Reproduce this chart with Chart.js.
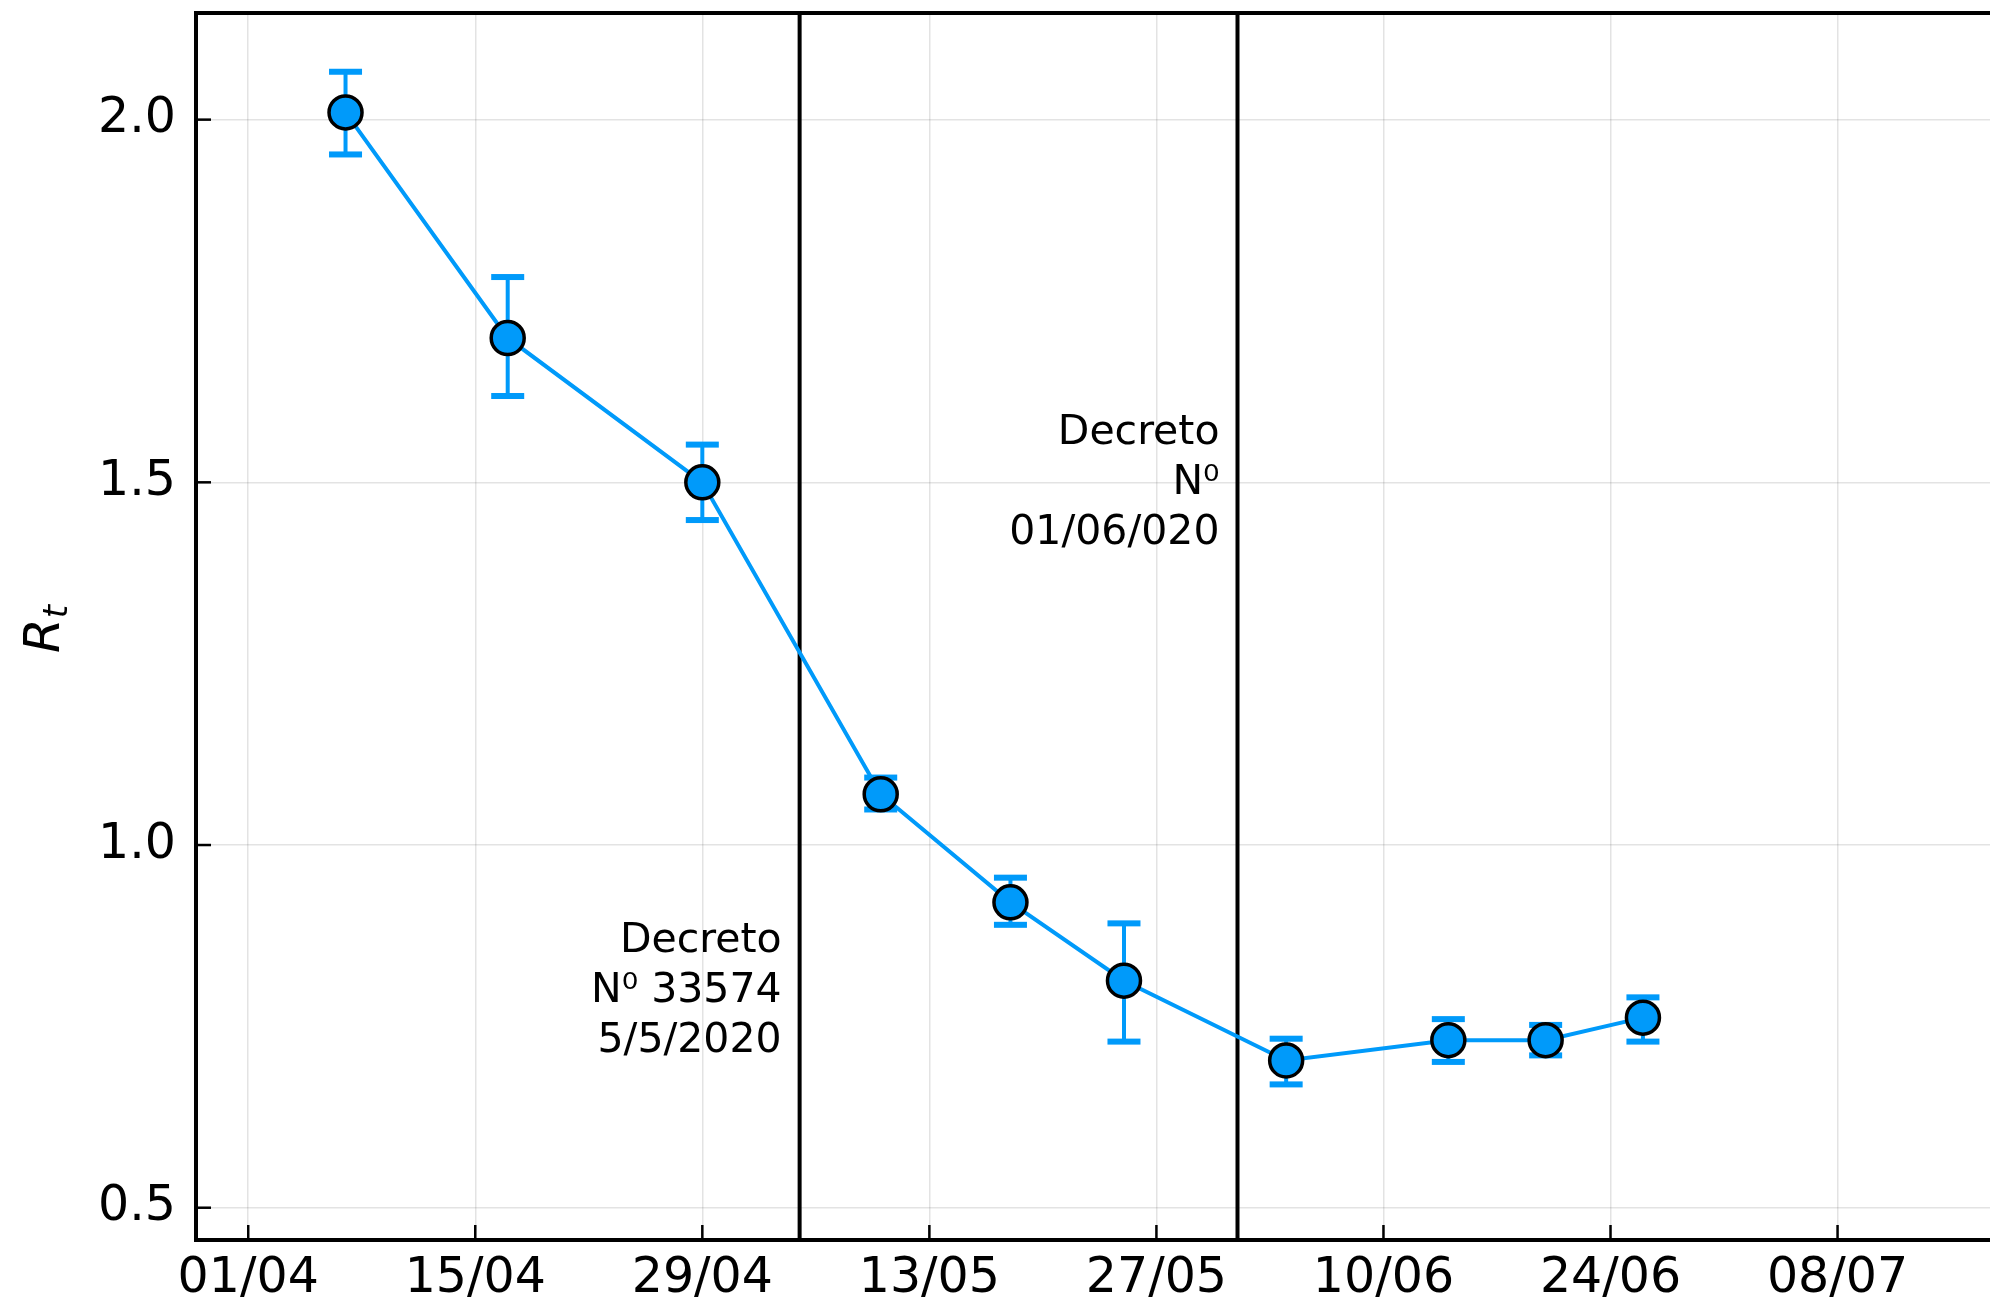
<!DOCTYPE html>
<html>
<head>
<meta charset="utf-8">
<script src="https://cdn.jsdelivr.net/npm/chart.js@4.4.1/dist/chart.umd.min.js"></script>
<style>
  html, body { margin: 0; padding: 0; background: #fff; overflow: hidden; }
  #wrap { width: 1990px; height: 1306px; position: relative; }
</style>
</head>
<body>
<div id="wrap"><canvas id="rtChart"></canvas></div>
<script>
// Rt estimado por fecha (dd/mm, 2020)
const dates = ["07/04", "17/04", "29/04", "10/05", "18/05", "25/05", "04/06", "14/06", "20/06", "26/06"];
const rt = [2.010, 1.699, 1.500, 1.070, 0.921, 0.813, 0.703, 0.731, 0.731, 0.762];
const rtLow = [1.952, 1.619, 1.448, 1.049, 0.890, 0.729, 0.670, 0.701, 0.710, 0.729];
const rtHigh = [2.066, 1.783, 1.552, 1.093, 0.955, 0.892, 0.733, 0.760, 0.752, 0.790];

// Ejes
const xTickDates = ["01/04", "15/04", "29/04", "13/05", "27/05", "10/06", "24/06", "08/07"];
const yTickValues = [0.5, 1.0, 1.5, 2.0];

// Decretos
const decreeDates = ["05/05", "01/06"];
const decreeTexts = [["Decreto", "N\u2070 33574", "5/5/2020"], ["Decreto", "N\u2070", "01/06/020"]];
const decreeTextY = [0.804, 1.504];

const BLUE = "#009AFA";

/**
 * "dd/mm" -> días desde 01/04/2020
 * @param {string} s
 * @returns {number}
 */
function toDay(s) {
    const [d, m] = s.split("/").map(Number);
    return Math.round((Date.UTC(2020, m - 1, d) - Date.UTC(2020, 3, 1)) / 86400000);
}

const xDays = dates.map(toDay);
const xTickDays = xTickDates.map(toDay);

const errorBars = {
    id: "errorBars",
    beforeDatasetsDraw(chart) {
        const { ctx, scales: { x, y } } = chart;
        ctx.save();
        ctx.strokeStyle = BLUE;
        ctx.fillStyle = BLUE;
        ctx.lineWidth = 4;
        xDays.forEach((d, i) => {
            const px = x.getPixelForValue(d);
            const top = y.getPixelForValue(rtHigh[i]);
            const bot = y.getPixelForValue(rtLow[i]);
            ctx.beginPath();
            ctx.moveTo(px, top);
            ctx.lineTo(px, bot);
            ctx.stroke();
            ctx.fillRect(px - 16.5, top - 3, 33, 6);
            ctx.fillRect(px - 16.5, bot - 3, 33, 6);
        });
        ctx.restore();
    },
};

const decrees = {
    id: "decrees",
    beforeDatasetsDraw(chart) {
        const { ctx, chartArea: a, scales: { x, y } } = chart;
        ctx.save();
        ctx.strokeStyle = "#000";
        ctx.lineWidth = 4;
        ctx.fillStyle = "#000";
        ctx.font = "41px 'DejaVu Sans'";
        ctx.textAlign = "right";
        ctx.textBaseline = "alphabetic";
        decreeDates.forEach((s, i) => {
            const px = x.getPixelForValue(toDay(s));
            ctx.beginPath();
            ctx.moveTo(px, a.top);
            ctx.lineTo(px, a.bottom);
            ctx.stroke();
            const mid = y.getPixelForValue(decreeTextY[i]) + 15;
            decreeTexts[i].forEach((t, j) => {
                ctx.fillText(t, px - 18, mid + (j - 1) * 50);
            });
        });
        ctx.restore();
    },
};

const frame = {
    id: "frame",
    afterDraw(chart) {
        const { ctx, chartArea: a, scales: { x, y } } = chart;
        ctx.save();
        ctx.strokeStyle = "#000";
        // borde superior
        ctx.lineWidth = 4;
        ctx.beginPath();
        ctx.moveTo(a.left - 2, a.top);
        ctx.lineTo(a.right + 2, a.top);
        ctx.stroke();
        // ticks hacia adentro
        ctx.lineWidth = 2.5;
        xTickDays.forEach((d) => {
            const px = x.getPixelForValue(d);
            ctx.beginPath();
            ctx.moveTo(px, a.bottom);
            ctx.lineTo(px, a.bottom - 15);
            ctx.stroke();
        });
        yTickValues.forEach((v) => {
            const py = y.getPixelForValue(v);
            ctx.beginPath();
            ctx.moveTo(a.left, py);
            ctx.lineTo(a.left + 15, py);
            ctx.stroke();
        });
        // titulo eje y: R_t
        ctx.translate(46, 629);
        ctx.rotate(-Math.PI / 2);
        ctx.fillStyle = "#000";
        ctx.textBaseline = "middle";
        ctx.textAlign = "left";
        ctx.font = "italic 34px 'DejaVu Sans'";
        const tw = ctx.measureText("t").width;
        ctx.font = "italic 50px 'DejaVu Sans'";
        const rw = ctx.measureText("R").width;
        const start = -(rw + tw) / 2;
        ctx.fillText("R", start, 0);
        ctx.font = "italic 34px 'DejaVu Sans'";
        ctx.fillText("t", start + rw, 12);
        ctx.restore();
    },
};

new Chart(document.getElementById("rtChart"), {
    type: "line",
    data: {
        datasets: [{
            data: xDays.map((d, i) => ({ x: d, y: rt[i] })),
            borderColor: BLUE,
            borderWidth: 4,
            pointRadius: 16.5,
            pointBorderWidth: 3.5,
            pointBackgroundColor: BLUE,
            pointBorderColor: "#000",
            tension: 0,
            clip: false,
        }],
    },
    options: {
        responsive: true,
        maintainAspectRatio: false,
        animation: false,
        layout: { autoPadding: false, padding: { top: 13, right: 0, left: 0, bottom: 0 } },
        plugins: { legend: { display: false }, tooltip: { enabled: false } },
        scales: {
            x: {
                type: "linear",
                min: -3.22,
                max: 107.4,
                afterBuildTicks: (s) => { s.ticks = xTickDays.map((v) => ({ value: v })); },
                afterFit: (s) => { s.height = 66; s.paddingLeft = 0; s.paddingRight = 0; },
                ticks: {
                    color: "#000",
                    padding: 10,
                    maxRotation: 0,
                    autoSkip: false,
                    font: { family: "'DejaVu Sans'", size: 49 },
                    callback: (v) => xTickDates[xTickDays.indexOf(v)],
                },
                grid: { color: "rgba(0,0,0,0.11)", lineWidth: 1.5, drawTicks: false },
                border: { display: true, color: "#000", width: 4 },
            },
            y: {
                min: 0.4555,
                max: 2.147,
                afterBuildTicks: (s) => { s.ticks = yTickValues.map((v) => ({ value: v })); },
                afterFit: (s) => { s.width = 196; s.paddingTop = 0; s.paddingBottom = 0; },
                ticks: {
                    color: "#000",
                    padding: 20,
                    font: { family: "'DejaVu Sans'", size: 49 },
                    callback: (v) => v.toFixed(1),
                },
                grid: { color: "rgba(0,0,0,0.11)", lineWidth: 1.5, drawTicks: false },
                border: { display: true, color: "#000", width: 4 },
            },
        },
    },
    plugins: [errorBars, decrees, frame],
});
</script>
</body>
</html>
